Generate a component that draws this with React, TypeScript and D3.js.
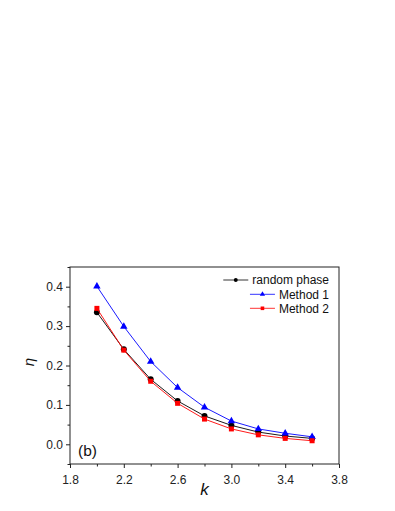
import React, { useEffect, useRef } from "react";
import * as d3 from "d3";

// k values and eta for each method
const kValues = [2.0, 2.2, 2.4, 2.6, 2.8, 3.0, 3.2, 3.4, 3.6];
const randomPhase = [0.335, 0.241, 0.165, 0.110, 0.072, 0.048, 0.031, 0.021, 0.015];
const method1 = [0.401, 0.299, 0.210, 0.144, 0.094, 0.059, 0.039, 0.028, 0.019];
const method2 = [0.345, 0.239, 0.160, 0.104, 0.064, 0.039, 0.024, 0.015, 0.009];
const seriesNames = ["random phase", "Method 1", "Method 2"];
const xTicks = [1.8, 2.2, 2.6, 3.0, 3.4, 3.8];
const xMinor = [2.0, 2.4, 2.8, 3.2, 3.6];
const yTicks = [0.0, 0.1, 0.2, 0.3, 0.4];
const yMinor = [-0.05, 0.05, 0.15, 0.25, 0.35, 0.45];

const W = 395;
const H = 511;
const FONT = "'Liberation Sans', Arial, sans-serif";

const App = () => {
  const svgRef = useRef<SVGSVGElement>(null);

  useEffect(() => {
    const svg = d3.select(svgRef.current);
    svg.selectAll("*").remove();

    const left = 70, right = 339, top = 267, bottom = 464;

    const x = d3.scaleLinear().domain([1.8, 3.8]).range([left, right]);
    const y = d3.scaleLinear().domain([-0.05, 0.45]).range([bottom, top]);

    const series = [
      { name: seriesNames[0], values: randomPhase, color: "#000000", shape: d3.symbolCircle, size: 28, lsize: 12 },
      { name: seriesNames[1], values: method1, color: "#0000ff", shape: d3.symbolTriangle, size: 24, lsize: 12 },
      { name: seriesNames[2], values: method2, color: "#ff0000", shape: d3.symbolSquare, size: 25, lsize: 13 },
    ];

    // frame
    svg.append("rect")
      .attr("x", left).attr("y", top)
      .attr("width", right - left).attr("height", bottom - top)
      .attr("fill", "none").attr("stroke", "#222").attr("stroke-width", 1);

    // axes
    const xAxis = d3.axisBottom(x).tickValues(xTicks).tickFormat(d3.format(".1f")).tickSize(4).tickPadding(5);
    const gx = svg.append("g").attr("transform", `translate(0,${bottom})`).call(xAxis);
    const xMinorAxis = d3.axisBottom(x).tickValues(xMinor).tickFormat(() => "").tickSize(2.5);
    svg.append("g").attr("transform", `translate(0,${bottom})`).call(xMinorAxis);

    const yAxis = d3.axisLeft(y).tickValues(yTicks).tickFormat(d3.format(".1f")).tickSize(4).tickPadding(3);
    svg.append("g").attr("transform", `translate(${left},0)`).call(yAxis);
    const yMinorAxis = d3.axisLeft(y).tickValues(yMinor).tickFormat(() => "").tickSize(2.5);
    svg.append("g").attr("transform", `translate(${left},0)`).call(yMinorAxis);

    svg.selectAll(".domain").remove();
    svg.selectAll(".tick line").attr("stroke", "#222");
    svg.selectAll(".tick text")
      .attr("font-family", FONT).attr("font-size", 12).attr("fill", "#222");
    gx.selectAll(".tick text").attr("dy", "0.95em");

    // lines and markers
    const line = d3.line<number>()
      .x((d, i) => x(kValues[i]))
      .y(d => y(d));

    series.forEach(s => {
      svg.append("path")
        .datum(s.values)
        .attr("d", line)
        .attr("fill", "none")
        .attr("stroke", s.color)
        .attr("stroke-width", 0.9);
      svg.append("g")
        .selectAll("path")
        .data(s.values)
        .join("path")
        .attr("transform", (d, i) => `translate(${x(kValues[i])},${y(d)})`)
        .attr("d", d3.symbol().type(s.shape).size(s.size)())
        .attr("fill", s.color);
    });

    // legend
    const legend = svg.append("g");
    const rowY = [280, 294.3, 308.3];
    series.forEach((s, i) => {
      const t = legend.append("text")
        .attr("x", 329).attr("y", rowY[i])
        .attr("dy", "0.35em")
        .attr("text-anchor", "end")
        .attr("font-family", FONT).attr("font-size", 12)
        .attr("fill", "#111")
        .text(s.name);
      const tw = (t.node() as SVGTextElement).getComputedTextLength();
      const x1 = 329 - tw - 4;
      const x0 = x1 - 25;
      legend.append("line")
        .attr("x1", x0).attr("x2", x1)
        .attr("y1", rowY[i]).attr("y2", rowY[i])
        .attr("stroke", s.color).attr("stroke-width", 0.8);
      legend.append("path")
        .attr("transform", `translate(${(x0 + x1) / 2},${rowY[i]})`)
        .attr("d", d3.symbol().type(s.shape).size(s.lsize)())
        .attr("fill", s.color);
    });

    // panel label
    svg.append("text")
      .attr("x", 78).attr("y", 451).attr("dy", "0.35em")
      .attr("font-family", FONT).attr("font-size", 15.5).attr("fill", "#111")
      .text("(b)");

    // axis titles
    svg.append("text")
      .attr("x", (left + right) / 2).attr("y", 489).attr("dy", "0.35em")
      .attr("text-anchor", "middle")
      .attr("font-family", FONT).attr("font-size", 17).attr("font-style", "italic")
      .attr("fill", "#111")
      .text("k");

    svg.append("text")
      .attr("transform", `translate(29,362) rotate(-90)`)
      .attr("dy", "0.35em")
      .attr("text-anchor", "middle")
      .attr("font-family", FONT).attr("font-size", 15).attr("font-style", "italic")
      .attr("fill", "#111")
      .text("η");
  }, []);

  return (
    <svg
      ref={svgRef}
      width={W}
      height={H}
      style={{ position: "absolute", left: 0, top: 0, background: "#fff" }}
    />
  );
};

export default App;
